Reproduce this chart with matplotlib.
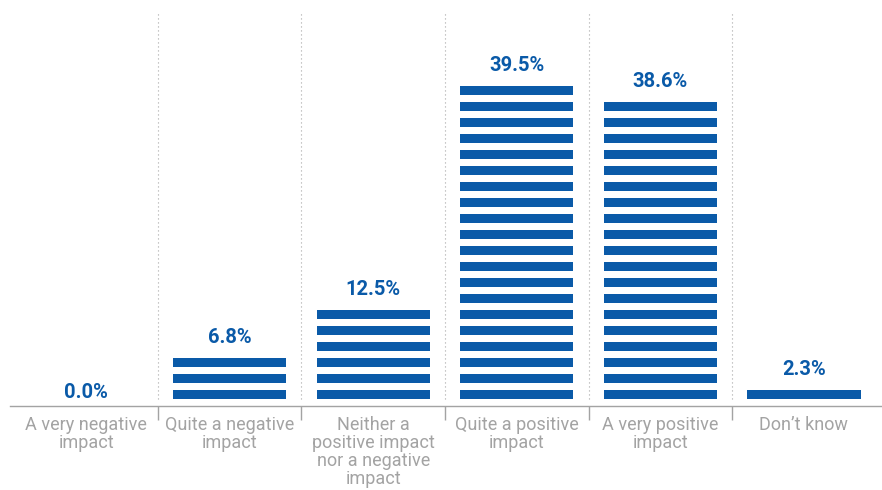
import matplotlib
matplotlib.use('Agg')
import matplotlib.pyplot as plt
import matplotlib.transforms as mtransforms

# Chart data
categories = ['A very negative\nimpact', 'Quite a negative\nimpact',
              'Neither a\npositive impact\nnor a negative\nimpact',
              'Quite a positive\nimpact', 'A very positive\nimpact', "Don\u2019t know"]
values = [0.0, 6.8, 12.5, 39.5, 38.6, 2.3]
value_labels = ['0.0%', '6.8%', '12.5%', '39.5%', '38.6%', '2.3%']

# each stripe stands for 2 percentage points
STEP = 2.0
GAP = 0.875
STRIPE = STEP - GAP

blue = '#0a5aa8'
grey = '#a3a3a3'

plt.rcParams['font.family'] = ['Roboto', 'DejaVu Sans']

fig = plt.figure(figsize=(8.82, 4.9), dpi=100)
ax = fig.add_axes([10 / 882, 84 / 490, 872 / 882, 393 / 490])

for i, v in enumerate(values):
    n = int(round(v / STEP))
    for k in range(n):
        ax.bar(i, STRIPE, bottom=k * STEP + GAP, width=0.79, color=blue, linewidth=0)
    off = 15 if n > 0 else 8
    ax.annotate(value_labels[i], (i, n * STEP), xytext=(0, off * 0.72),
                textcoords='offset points', ha='center', va='baseline',
                fontsize=14.5, fontweight='bold', color=blue)

# dotted separators between categories
seps = [i + 0.5 for i in range(len(categories) - 1)]
ax.vlines(seps, GAP, 49.2, colors='#a8a8a8', linewidth=0.8,
          linestyles=(0, (1, 2.6)))

ax.set_xlim(-0.5306, 5.5446)
ax.set_ylim(0, 393 / 8)

for s in ['top', 'right', 'left']:
    ax.spines[s].set_visible(False)
ax.spines['bottom'].set_color(grey)
ax.spines['bottom'].set_linewidth(1)
ax.set_yticks([])
ax.set_xticks(seps)
ax.set_xticklabels([])
ax.tick_params(axis='x', direction='out', length=10, width=1, color=grey)

trans = mtransforms.blended_transform_factory(ax.transData, ax.transAxes)
for i, lab in enumerate(categories):
    ax.annotate(lab, (i, 0), xycoords=trans, xytext=(0, -7.5),
                textcoords='offset points', ha='center', va='top',
                fontsize=13, color=grey, linespacing=1.0)

fig.savefig('out.png', dpi=100)
